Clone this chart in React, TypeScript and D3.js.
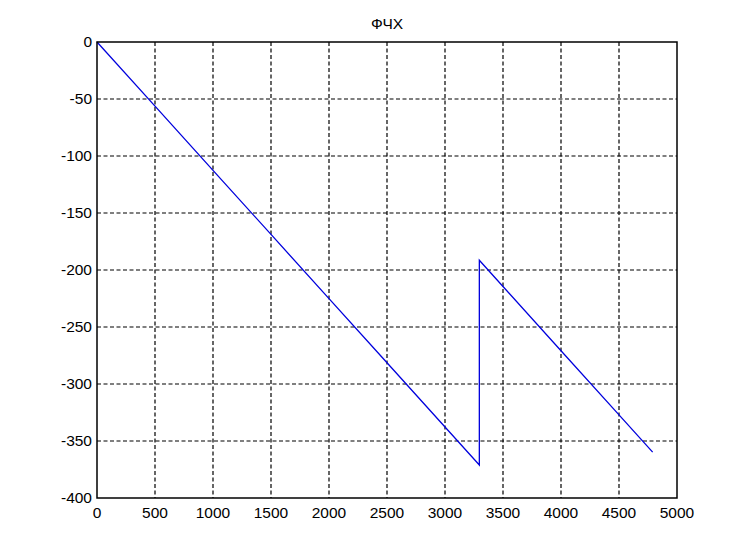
import React from "react";
import * as d3 from "d3";

const freqs1 = [0, 500, 1000, 1500, 2000, 2500, 3000, 3296];
const phase1 = [0, -56.3, -112.6, -168.8, -225.1, -281.4, -337.7, -371];
const freqs2 = [3296, 3500, 4000, 4500, 4790];
const phase2 = [-191.5, -214.5, -270.8, -327.1, -359.8];
const xTicks = [0, 500, 1000, 1500, 2000, 2500, 3000, 3500, 4000, 4500, 5000];
const yTicks = [0, -50, -100, -150, -200, -250, -300, -350, -400];
const title = "ФЧХ";

const W = 747, H = 560;
const L = 97, R = 677, T = 42, B = 498;

export default function App() {
  const x = d3.scaleLinear().domain([0, 5000]).range([L, R]);
  const y = d3.scaleLinear().domain([-400, 0]).range([B, T]);
  const pts: [number, number][] = [
    ...freqs1.map((f, i) => [f, phase1[i]] as [number, number]),
    ...freqs2.map((f, i) => [f, phase2[i]] as [number, number]),
  ];
  const line = d3.line<[number, number]>().x(d => x(d[0])).y(d => y(d[1]));
  const font = "'Liberation Sans', Arial, sans-serif";
  return (
    <svg width={W} height={H} style={{ position: "absolute", left: 0, top: 0, background: "#fff" }}>
      <rect x={0} y={0} width={W} height={H} fill="#fff" />
      {xTicks.slice(1, -1).map(t => (
        <line key={"gx" + t} x1={x(t)} x2={x(t)} y1={T} y2={B} stroke="#000" strokeWidth={1.2} strokeDasharray="4,2.5" />
      ))}
      {yTicks.slice(1, -1).map(t => (
        <line key={"gy" + t} x1={L} x2={R} y1={y(t)} y2={y(t)} stroke="#000" strokeWidth={1.2} strokeDasharray="4,2.5" />
      ))}
      <path d={line(pts) || ""} fill="none" stroke="#0000dd" strokeWidth={1.3} />
      <rect x={L} y={T} width={R - L} height={B - T} fill="none" stroke="#000" strokeWidth={1.5} />
      {xTicks.map(t => (
        <text key={"xl" + t} x={x(t)} y={518} textAnchor="middle" fontFamily={font} fontSize={15.5} fill="#000">{t}</text>
      ))}
      {yTicks.map(t => (
        <text key={"yl" + t} x={92} y={y(t) + 5} textAnchor="end" fontFamily={font} fontSize={15.5} fill="#000">{t}</text>
      ))}
      <text x={(L + R) / 2} y={29} textAnchor="middle" fontFamily={font} fontSize={15.5} fill="#000">{title}</text>
    </svg>
  );
}
